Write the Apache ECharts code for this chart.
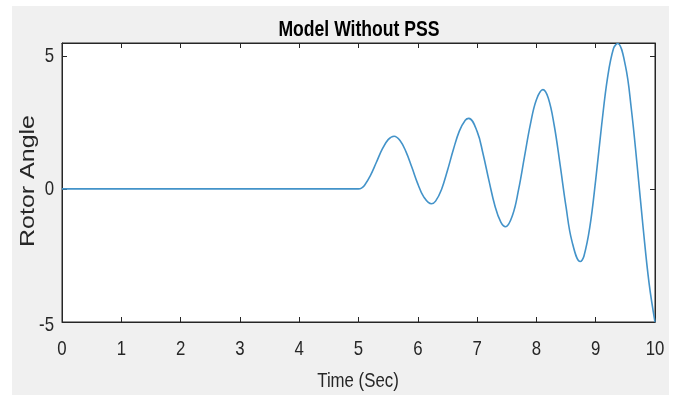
<!DOCTYPE html>
<html>
<head>
<meta charset="utf-8">
<script src="https://cdn.jsdelivr.net/npm/echarts@6/dist/echarts.min.js"></script>
<style>
html,body{margin:0;padding:0;background:#ffffff;}
#chart{width:678px;height:395px;}
</style>
</head>
<body>
<div id="chart"></div>
<script>
const titleText = 'Model Without PSS';
const xAxisName = 'Time (Sec)';
const yAxisName = 'Rotor Angle';
const xTicks = [0,1,2,3,4,5,6,7,8,9,10];
const yTicks = [-5,0,5];

const times = [0,1,2,3,4,4.5,4.9,5.0,5.05,5.1,5.2,5.3,5.4,5.5,5.6,5.7,5.8,5.9,6.0,6.1,6.23,6.3,6.4,6.5,6.6,6.7,6.8,6.86,7.0,7.1,7.2,7.3,7.4,7.48,7.6,7.7,7.8,7.9,8.0,8.11,8.2,8.3,8.4,8.5,8.6,8.74,8.8,8.9,9.0,9.1,9.2,9.3,9.37,9.5,9.6,9.7,9.8,9.9,10.0];
const angle = [0,0,0,0,0,0,0,0,0.03,0.13,0.50,0.99,1.49,1.85,1.98,1.82,1.40,0.81,0.19,-0.30,-0.56,-0.46,-0.02,0.69,1.48,2.17,2.58,2.65,2.16,1.32,0.31,-0.63,-1.25,-1.42,-0.97,-0.02,1.22,2.44,3.35,3.73,3.41,2.39,0.90,-0.68,-1.97,-2.73,-2.54,-1.45,0.34,2.39,4.18,5.27,5.46,4.64,3.02,0.86,-1.46,-3.54,-5.0];

const series = times.map((t, i) => [t, angle[i]]);

const axisColor = '#262626';
const fontFam = '"Liberation Sans", Arial, Helvetica, sans-serif';
const yMax = 5.48;

const chart = echarts.init(document.getElementById('chart'), null, {renderer: 'canvas'});
const tickCommon = {show: true, inside: true, length: 5, lineStyle: {color: axisColor}};
const lineCommon = {show: true, onZero: false, lineStyle: {color: axisColor}};
chart.setOption({
  animation: false,
  backgroundColor: '#ffffff',
  grid: {
    left: 62, right: 23, top: 43, bottom: 73, outerBoundsMode: 'none', containLabel: false,
    show: true, backgroundColor: '#ffffff', borderColor: axisColor, borderWidth: 1
  },
  xAxis: [{
    type: 'value', min: xTicks[0], max: xTicks[xTicks.length-1], interval: 1,
    axisLine: lineCommon, axisTick: tickCommon,
    axisLabel: {show: false}, splitLine: {show: false}
  }, {
    type: 'value', position: 'top', min: xTicks[0], max: xTicks[xTicks.length-1], interval: 1,
    axisLine: lineCommon, axisTick: tickCommon,
    axisLabel: {show: false}, splitLine: {show: false}
  }],
  yAxis: [{
    type: 'value', min: yTicks[0], max: yMax, interval: 5,
    axisLine: lineCommon, axisTick: tickCommon,
    axisLabel: {show: false}, splitLine: {show: false}
  }, {
    type: 'value', position: 'right', min: yTicks[0], max: yMax, interval: 5,
    axisLine: lineCommon, axisTick: tickCommon,
    axisLabel: {show: false}, splitLine: {show: false}
  }],
  series: [{
    type: 'line', xAxisIndex: 0, yAxisIndex: 0,
    data: series, smooth: 0.4, showSymbol: false, clip: false,
    lineStyle: {color: '#4393c9', width: 1.6}
  }]
});

function txt(text, x, y, opt) {
  return Object.assign({
    type: 'text', x: x, y: y, silent: true, z: 10,
    style: Object.assign({
      text: text, fill: axisColor, fontFamily: fontFam, fontSize: 21,
      textAlign: 'center', textVerticalAlign: 'middle', align: 'center', verticalAlign: 'middle'
    }, opt.style || {})
  }, opt.el || {});
}

const g = [{
  type: 'rect', z: -10, silent: true,
  shape: {x: 12, y: 6, width: 657, height: 395},
  style: {fill: '#f0f0f0'}
}];
const xLabY = chart.convertToPixel({yAxisIndex: 0}, yTicks[0]) + 27;
xTicks.forEach(v => {
  const px = chart.convertToPixel({xAxisIndex: 0}, v);
  g.push(txt(String(v), px, xLabY, {el: {scaleX: 0.8}, style: {fontSize: 21}}));
});
const yLabX = chart.convertToPixel({xAxisIndex: 0}, xTicks[0]) - 8;
yTicks.forEach(v => {
  const py = chart.convertToPixel({yAxisIndex: 0}, v);
  g.push(txt(String(v), yLabX, py + (v === yTicks[0] ? 3 : 0), {el: {scaleX: 0.8},
    style: {fontSize: 21, textAlign: 'right', align: 'right'}}));
});
g.push(txt(titleText, 359, 30, {el: {scaleX: 0.8}, style: {fontSize: 22, fontWeight: 'bold', fill: '#000'}}));
g.push(txt(xAxisName, 358, 381, {el: {scaleX: 0.8}, style: {fontSize: 21}}));
g.push(txt(yAxisName, 28, 181, {el: {rotation: Math.PI / 2, scaleY: 0.8}, style: {fontSize: 25}}));

chart.setOption({graphic: g});
</script>
</body>
</html>
